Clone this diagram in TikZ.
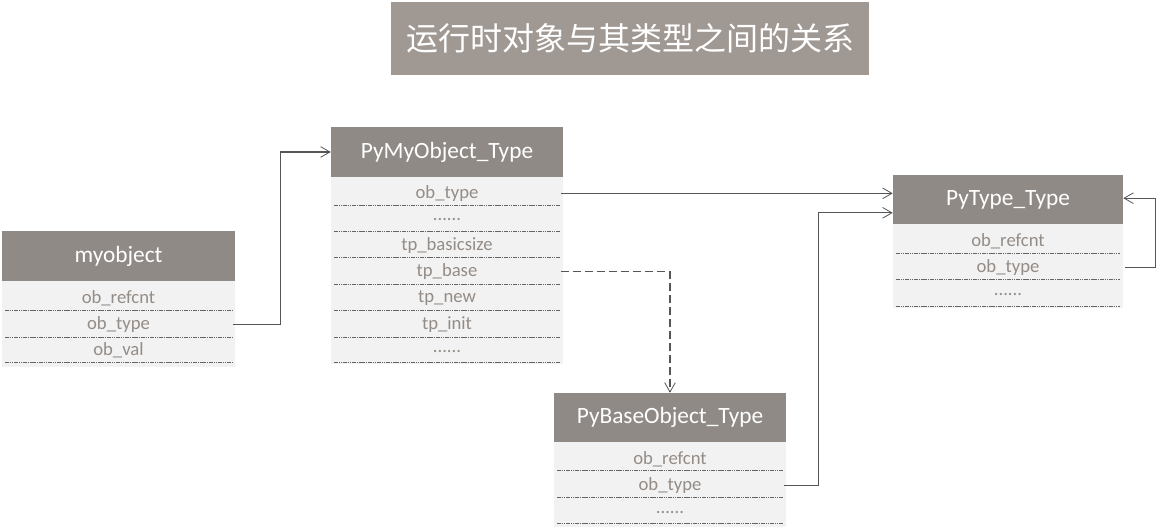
\documentclass[tikz,border=0pt]{standalone}
\usepackage{fontspec}
\setmainfont{Carlito}
\newfontfamily\cjk{Noto Sans CJK SC}
\usetikzlibrary{arrows.meta}
\definecolor{headgray}{RGB}{143,138,134}
\definecolor{titlegray}{RGB}{160,152,147}
\definecolor{bodygray}{RGB}{242,242,242}
\definecolor{rowtext}{RGB}{148,140,134}
\definecolor{sepgray}{RGB}{100,100,100}
\definecolor{conngray}{RGB}{85,85,85}
\tikzset{
  head/.style={fill=headgray, text=white, inner sep=0pt, font=\fontsize{17.5}{20}\selectfont},
  body/.style={fill=bodygray, inner sep=0pt},
  rowlabel/.style={text=rowtext, inner sep=0pt, yshift=-1pt, font=\fontsize{14}{16}\selectfont},
  sepline/.style={sepgray, line width=0.6pt, dash pattern=on 1.2pt off 0.5pt},
  conn/.style={conngray, line width=0.8pt, -{Straight Barb[length=7pt,width=8pt,line width=0.6pt]}},
  dashconn/.style={dash pattern=on 6pt off 3pt},
}
\begin{document}
\begin{tikzpicture}[x=0.75pt,y=-0.75pt]
\useasboundingbox (0,0) rectangle (1156,531);
% title
\node[fill=titlegray, text=white, inner sep=0pt, minimum width=478*0.75pt, minimum height=73*0.75pt,
      font=\cjk\fontsize{24}{28}\selectfont] (title) at (630,38.5) {运行时对象与其类型之间的关系};

% myobject
\node[head, minimum width=233*0.75pt, minimum height=50*0.75pt] (mhead) at (118.5,256) {myobject};
\node[body, minimum width=233*0.75pt, minimum height=86*0.75pt] (mbody) at (118.5,324) {};
\node[rowlabel] (m1) at (118.5,297) {ob\_refcnt};
\node[rowlabel] (m2) at (118.5,323) {ob\_type};
\node[rowlabel] (m3) at (118.5,349) {ob\_val};
\foreach \yy in {310,337,362} \draw[sepline] (5,\yy) -- (232,\yy);

% PyMyObject_Type
\node[head, minimum width=232*0.75pt, minimum height=50*0.75pt] (phead) at (447,152) {PyMyObject\_Type};
\node[body, minimum width=232*0.75pt, minimum height=187*0.75pt] (pbody) at (447,270.5) {};
\node[rowlabel] (p1) at (447,192) {ob\_type};
\node[rowlabel] (p2) at (447,218) {......};
\node[rowlabel] (p3) at (447,244) {tp\_basicsize};
\node[rowlabel] (p4) at (447,270) {tp\_base};
\node[rowlabel] (p5) at (447,297) {tp\_new};
\node[rowlabel] (p6) at (447,323) {tp\_init};
\node[rowlabel] (p7) at (447,350) {......};
\foreach \yy in {205,231,257,284,310,337,362} \draw[sepline] (334,\yy) -- (560,\yy);

% PyType_Type
\node[head, minimum width=230*0.75pt, minimum height=49*0.75pt] (thead) at (1008,199.5) {PyType\_Type};
\node[body, minimum width=230*0.75pt, minimum height=84*0.75pt] (tbody) at (1008,266) {};
\node[rowlabel] (t1) at (1008,240) {ob\_refcnt};
\node[rowlabel] (t2) at (1008,266) {ob\_type};
\node[rowlabel] (t3) at (1008,293) {......};
\foreach \yy in {253,279,306} \draw[sepline] (896,\yy) -- (1120,\yy);

% PyBaseObject_Type
\node[head, minimum width=232*0.75pt, minimum height=49*0.75pt] (bhead) at (670,417.5) {PyBaseObject\_Type};
\node[body, minimum width=232*0.75pt, minimum height=85*0.75pt] (bbody) at (670,484.5) {};
\node[rowlabel] (b1) at (670,458) {ob\_refcnt};
\node[rowlabel] (b2) at (670,484) {ob\_type};
\node[rowlabel] (b3) at (670,511) {......};
\foreach \yy in {470,497,523} \draw[sepline] (557,\yy) -- (783,\yy);

% connectors
\draw[conn] ([xshift=-1.5pt]mbody.east |- m2.center) -- ++(47,0) |- (phead.west);
\draw[conn] ([xshift=-1.5pt]pbody.east |- p1.center) -- (thead.west |- p1.center);
\draw[conn, dashconn] ([xshift=-1.5pt]pbody.east |- p4.center) -| (bhead.north);
\draw[conn] ([xshift=-1.5pt]bbody.east |- b2.center) -- ++(34,0) |- ([yshift=-10pt]thead.west);
\draw[conn] ([xshift=1.5pt]tbody.east |- t2.center) -- ++(30,0) |- ([yshift=1pt]thead.east);
\end{tikzpicture}
\end{document}
